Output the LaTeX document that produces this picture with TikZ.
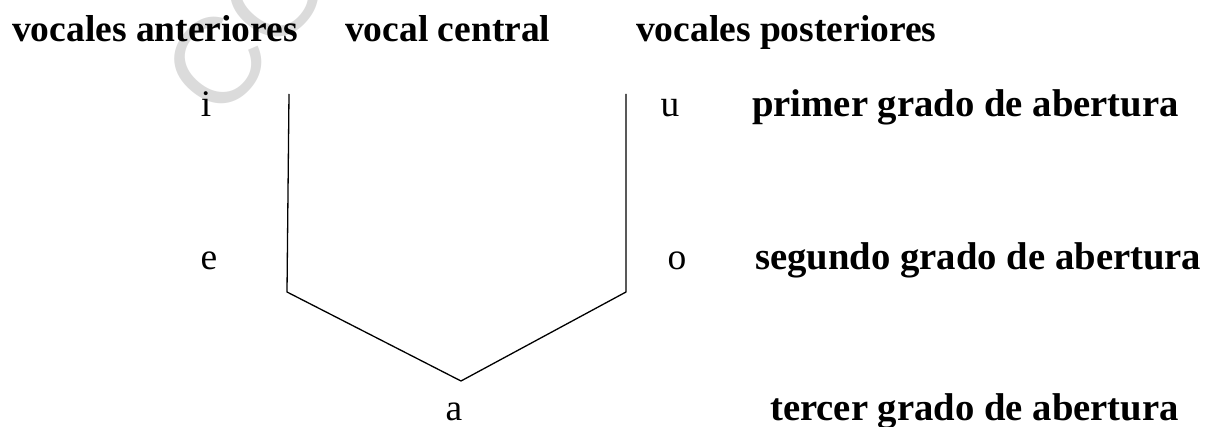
\documentclass[tikz,border=0pt]{standalone}
\usepackage{fontspec}
\setmainfont{Liberation Serif}
\newfontfamily\wmfont{Liberation Sans}
\begin{document}
\begin{tikzpicture}[x=1pt,y=-1pt,
  head/.style={font=\fontsize{37.5}{40}\selectfont\bfseries, inner sep=0pt, anchor=base west},
  grade/.style={font=\fontsize{38.7}{41}\selectfont\bfseries, inner sep=0pt, anchor=base west},
  vow/.style={font=\fontsize{37.5}{40}\selectfont, inner sep=0pt, anchor=base},
  wm/.style={text=black!14, font=\wmfont\fontsize{122}{122}\selectfont, inner sep=0pt, anchor=base west, rotate=50},
  edge/.style={line width=1.3pt, line join=miter}]
\useasboundingbox (0,0) rectangle (1208,427);
\node[wm] (mark) at (220,124) {CO};
\node[head] (ant) at (12,42) {vocales anteriores};
\node[head] (cen) at (345,42) {vocal central};
\node[head] (post) at (636,42) {vocales posteriores};
\node[vow] (i) at (206,117) {i};
\node[vow] (u) at (670,117) {u};
\node[grade] (g1) at (752,117) {primer grado de abertura};
\node[vow] (e) at (209,270) {e};
\node[vow] (o) at (677,270) {o};
\node[grade] (g2) at (755,270) {segundo grado de abertura};
\node[vow] (a) at (454,421) {a};
\node[grade] (g3) at (770,421) {tercer grado de abertura};
\coordinate (lt) at (289,94);
\coordinate (lb) at (287,292);
\coordinate (bv) at (461,381);
\coordinate (rb) at (626,292);
\coordinate (rt) at (626,94);
\draw[edge] (lt) -- (lb) -- (bv) -- (rb) -- (rt);
\end{tikzpicture}
\end{document}
